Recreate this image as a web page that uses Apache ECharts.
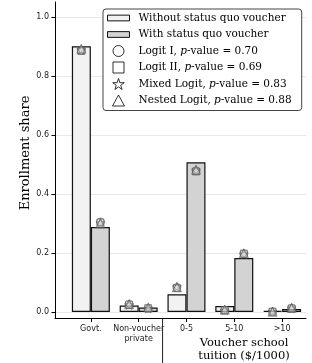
<!DOCTYPE html>
<html><head><meta charset="utf-8">
<script src="https://cdn.jsdelivr.net/npm/echarts@6/dist/echarts.min.js"></script>
<style>html,body{margin:0;padding:0;background:#fff}#c{width:312px;height:363px}</style>
</head><body><div id="c"></div>
<script>
// ---- data ----
const categories = ['Govt.', 'Non-voucher\nprivate', '0-5', '5-10', '>10'];
const withoutVoucher = [0.900, 0.022, 0.060, 0.020, 0.004];
const withVoucher    = [0.288, 0.015, 0.507, 0.183, 0.010];
// model predictions per category
const logit1Without  = [0.886, 0.026, 0.083, 0.006, 0.001];
const logit1With     = [0.305, 0.012, 0.478, 0.197, 0.013];
const logit2Without  = [0.884, 0.025, 0.081, 0.007, 0.001];
const logit2With     = [0.303, 0.013, 0.476, 0.198, 0.012];
const mixedWithout   = [0.888, 0.024, 0.085, 0.006, 0.002];
const mixedWith      = [0.302, 0.012, 0.480, 0.196, 0.013];
const nestedWithout  = [0.892, 0.027, 0.084, 0.008, 0.001];
const nestedWith     = [0.300, 0.016, 0.482, 0.199, 0.014];
const seriesNames = ['Without status quo voucher', 'With status quo voucher',
  'Logit I, p-value = 0.70', 'Logit II, p-value = 0.69',
  'Mixed Logit, p-value = 0.83', 'Nested Logit, p-value = 0.88'];
const yTicks = [0, 0.2, 0.4, 0.6, 0.8, 1.0];
const xTicks = [0, 1, 2, 3, 4];
const dividerAt = 1.5;

const STAR = 'path://M50,0 L61.2,34.5 L97.6,34.5 L68.2,55.9 L79.4,90.5 L50,69.1 L20.6,90.5 L31.8,55.9 L2.4,34.5 L38.8,34.5 Z';
const SQUARE = 'path://M0,0 L10,0 L10,10 L0,10 Z';
const TRI = 'path://M6,0 L12,11 L0,11 Z';
const PATCH = 'path://M0,0 L23,0 L23,6 L0,6 Z';
const OFF = 0.2;

const chart = echarts.init(document.getElementById('c'), null, {renderer: 'canvas'});
const sans = 'DejaVu Sans', serif = 'DejaVu Serif';

function barData(arr) { return arr.map((v, i) => [i, v]); }
function ptData(wo, wi) {
  const d = [];
  wo.forEach((v, i) => d.push([i - OFF, v]));
  wi.forEach((v, i) => d.push([i + OFF, v]));
  return d;
}
const markerStyle = {color: 'rgba(210,210,210,0.35)', borderColor: 'rgba(85,85,85,0.85)', borderWidth: 0.9};
function scatter(name, symbol, size, wo, wi) {
  return {name, type: 'scatter', symbol, symbolSize: size, data: ptData(wo, wi),
    itemStyle: markerStyle, z: 5, silent: true};
}
const legMark = {color: '#fff', borderColor: '#000', borderWidth: 1};

chart.setOption({
  animation: false,
  grid: {left: 55, right: 6, top: 2, bottom: 44.5, containLabel: false},
  legend: {
    orient: 'vertical', left: 103, top: 9,
    padding: [3, 10, 4, 4],
    itemWidth: 22, itemHeight: 11, itemGap: 4.5,
    borderColor: '#444', borderWidth: 1, borderRadius: 3,
    backgroundColor: '#fff',
    selectedMode: false,
    textStyle: {fontFamily: serif, fontSize: 10.5, color: '#000', lineHeight: 12, padding: [0, 0, 0, 4],
      rich: {i: {fontFamily: serif, fontSize: 10.5, fontStyle: 'italic', color: '#000'}}},
    formatter: n => n.replace('p-value', '{i|p}-value'),
    data: [
      {name: seriesNames[0], icon: PATCH, itemStyle: {color: '#f2f2f2', borderColor: '#111', borderWidth: 1}},
      {name: seriesNames[1], icon: PATCH, itemStyle: {color: '#d3d3d3', borderColor: '#111', borderWidth: 1}},
      {name: seriesNames[2], icon: 'circle', itemStyle: legMark},
      {name: seriesNames[3], icon: SQUARE, itemStyle: legMark},
      {name: seriesNames[4], icon: STAR, itemStyle: legMark},
      {name: seriesNames[5], icon: TRI, itemStyle: legMark}
    ]
  },
  xAxis: {
    type: 'value', min: -0.75, max: 4.5,
    splitLine: {show: false},
    axisLine: {onZero: false, lineStyle: {color: '#000', width: 1}},
    axisTick: {customValues: xTicks, length: 3.5, lineStyle: {color: '#000'}},
    axisLabel: {customValues: xTicks, formatter: v => categories[Math.round(v)],
      fontFamily: sans, fontSize: 8, color: '#222', margin: 5, lineHeight: 10}
  },
  yAxis: {
    type: 'value', min: -0.022, max: 1.05,
    axisLine: {show: true, onZero: false, lineStyle: {color: '#000', width: 1}},
    axisTick: {show: true, customValues: yTicks, length: 3.5, lineStyle: {color: '#000'}},
    axisLabel: {customValues: yTicks, formatter: v => v.toFixed(1),
      fontFamily: sans, fontSize: 8, color: '#222', margin: 6},
    splitLine: {show: false}
  },
  series: [
    {name: seriesNames[0], type: 'bar', data: barData(withoutVoucher), barWidth: 19, barGap: '0%',
      itemStyle: {color: '#f2f2f2', borderColor: '#111', borderWidth: 1.2},
      markLine: {silent: true, symbol: 'none', label: {show: false},
        lineStyle: {color: '#e8e8e8', width: 1, type: 'solid'},
        data: yTicks.map(v => ({yAxis: v})), z: 0}},
    {name: seriesNames[1], type: 'bar', data: barData(withVoucher), barWidth: 19, barGap: '0%',
      itemStyle: {color: '#d3d3d3', borderColor: '#111', borderWidth: 1.2}},
    scatter(seriesNames[2], 'circle', 8, logit1Without, logit1With),
    scatter(seriesNames[3], 'rect', 7, logit2Without, logit2With),
    scatter(seriesNames[4], STAR, 9, mixedWithout, mixedWith),
    scatter(seriesNames[5], 'triangle', 9, nestedWithout, nestedWith)
  ]
});

const px = chart.convertToPixel({xAxisIndex: 0}, dividerAt);
const py = chart.convertToPixel({yAxisIndex: 0}, -0.022);
chart.setOption({graphic: [
  {type: 'line', shape: {x1: px, y1: py, x2: px, y2: 363}, style: {stroke: '#222', lineWidth: 1}, silent: true},
  {type: 'text', x: 26, y: 153, rotation: Math.PI / 2, style: {text: 'Enrollment share', fontFamily: serif, fontSize: 13, fill: '#000', align: 'center', verticalAlign: 'middle'}},
  {type: 'text', x: 244, y: 343, style: {text: 'Voucher school', fontFamily: serif, fontSize: 11.5, fill: '#000', align: 'center', verticalAlign: 'middle'}},
  {type: 'text', x: 244, y: 356, style: {text: 'tuition ($/1000)', fontFamily: serif, fontSize: 11.5, fill: '#000', align: 'center', verticalAlign: 'middle'}}
]});
</script></body></html>
